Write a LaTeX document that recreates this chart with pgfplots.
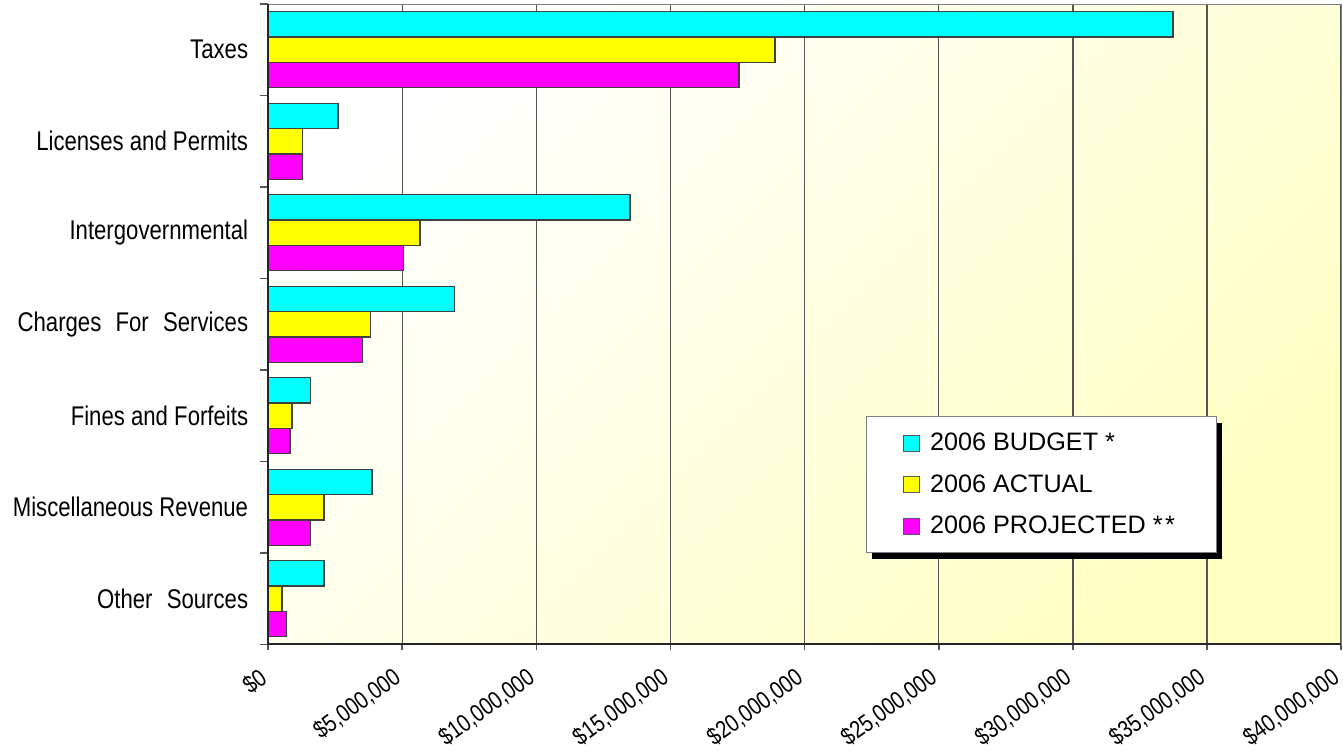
\documentclass[border=0pt]{standalone}
\usepackage{pgfplots}
\pgfplotsset{compat=1.18}
\usepackage{fontspec}
\setmainfont{Liberation Sans}
\newfontfamily\narrow{Liberation Sans}[FakeStretch=0.82]
\usetikzlibrary{shadows}
\definecolor{cbud}{RGB}{0,255,255}
\definecolor{cact}{RGB}{255,255,0}
\definecolor{cpro}{RGB}{255,0,255}
\definecolor{bgyel}{RGB}{255,255,196}
\definecolor{gridc}{RGB}{85,85,85}
\pgfplotsset{sq/.style={legend image code/.code={\node[fill=#1, draw=gray!70!black, line width=0.4pt, inner sep=0pt, minimum size=8pt, anchor=west] at (0pt,0pt) {};}}}
\begin{document}
\begin{tikzpicture}
\begin{axis}[
  scale only axis,
  width=536pt, height=320pt,
  xmin=0, xmax=40000000,
  ymin=-0.5, ymax=6.5,
  axis background/.style={top color=white, bottom color=bgyel, shading angle=45},
  axis line style={draw=gray},
  xtick={0,5000000,10000000,15000000,20000000,25000000,30000000,35000000,40000000},
  xticklabels={{\$0},{\$5,000,000},{\$10,000,000},{\$15,000,000},{\$20,000,000},{\$25,000,000},{\$30,000,000},{\$35,000,000},{\$40,000,000}},
  scaled x ticks=false,
  xmajorgrids,
  major x grid style={gridc, line width=0.7pt},
  ytick={0,1,2,3,4,5,6},
  yticklabels={{Other\hspace{0.3em} Sources},{Miscellaneous Revenue},{Fines and Forfeits},{Charges\hspace{0.3em} For\hspace{0.3em} Services},{Intergovernmental\ },{Licenses and Permits},{Taxes}},
  minor ytick={-0.5,0.5,1.5,2.5,3.5,4.5,5.5,6.5},
  major y tick style={draw=none},
  minor tick length=4pt,
  major tick length=3pt,
  tick align=outside,
  tick pos=left,
  tick style={gridc, line width=0.8pt},
  yticklabel style={font=\narrow\fontsize{13.5}{16}\selectfont, xshift=-3.5pt},
  xticklabel style={font=\narrow\fontsize{12.2}{14}\selectfont, rotate=36, anchor=east, yshift=-8.5pt, xshift=-5.5pt},
  bar width=0.277,
  legend style={at={(0.557,0.356)}, anchor=north west, draw=gray, fill=white,
    drop shadow={shadow xshift=3pt, shadow yshift=-3pt, fill=black, opacity=1},
    font=\fontsize{12.6}{15}\selectfont, inner xsep=18.5pt, inner ysep=6pt, row sep=6.5pt,
    cells={anchor=west},
    /tikz/every odd column/.append style={column sep=3pt}},
]
\addplot[xbar, bar shift=0.277, fill=cbud, draw=black!75, line width=0.7pt, sq=cbud] coordinates {
 (33730000,6) (2600000,5) (13490000,4) (6940000,3) (1580000,2) (3870000,1) (2080000,0)};
\addlegendentry{2006 BUDGET *}
\addplot[xbar, bar shift=0, fill=cact, draw=black!75, line width=0.7pt, sq=cact] coordinates {
 (18900000,6) (1270000,5) (5660000,4) (3810000,3) (890000,2) (2080000,1) (520000,0)};
\addlegendentry{2006 ACTUAL}
\addplot[xbar, bar shift=-0.277, fill=cpro, draw=black!75, line width=0.7pt, sq=cpro] coordinates {
 (17560000,6) (1280000,5) (5050000,4) (3510000,3) (820000,2) (1580000,1) (680000,0)};
\addlegendentry{2006 PROJECTED *\hspace{0.1em}*}
\end{axis}
\draw[black!85, line width=1pt] (current axis.north west) -- (current axis.south west) -- (current axis.south east);
\pgfresetboundingbox
\path ([shift={(-134pt,-53pt)}]current axis.south west) rectangle ([shift={(1pt,2pt)}]current axis.north east);
\end{tikzpicture}
\end{document}
